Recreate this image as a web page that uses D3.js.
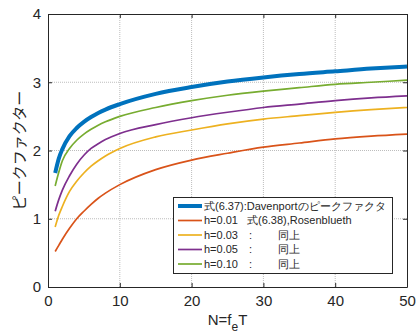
<!DOCTYPE html>
<html>
<head>
<meta charset="utf-8">
<script src="https://cdn.jsdelivr.net/npm/d3@7"></script>
<style>
  body { margin: 0; background: #fff; }
  svg { font-family: "Liberation Sans", Arial, sans-serif; }
</style>
</head>
<body>
<div id="chart"></div>
<script>
const xs = [1, 1.5, 2, 3, 4, 5, 6, 7, 8, 10, 15, 20, 25, 30, 35, 40, 45, 50];

const davenport = [1.67, 1.88, 2.02, 2.21, 2.33, 2.42, 2.49, 2.55, 2.60, 2.68, 2.83, 2.93, 3.01, 3.07, 3.12, 3.16, 3.20, 3.23];
const h001 = [0.52, 0.61, 0.70, 0.86, 1.00, 1.11, 1.21, 1.30, 1.375, 1.50, 1.72, 1.86, 1.96, 2.05, 2.11, 2.17, 2.21, 2.24];
const h003 = [0.88, 1.05, 1.18, 1.40, 1.55, 1.67, 1.77, 1.85, 1.92, 2.03, 2.20, 2.30, 2.39, 2.46, 2.51, 2.56, 2.60, 2.63];
const h005 = [1.11, 1.28, 1.42, 1.63, 1.80, 1.93, 2.03, 2.10, 2.16, 2.25, 2.38, 2.48, 2.56, 2.63, 2.68, 2.73, 2.77, 2.80];
const h010 = [1.48, 1.68, 1.85, 2.03, 2.15, 2.24, 2.31, 2.37, 2.42, 2.50, 2.63, 2.73, 2.81, 2.87, 2.92, 2.97, 3.00, 3.03];

const xTicks = [0, 10, 20, 30, 40, 50];
const yTicks = [0, 1, 2, 3, 4];

const legendLabels = [
  ["式(6.37):Davenportのピークファクタ"],
  ["h=0.01", "式(6.38),Rosenblueth"],
  ["h=0.03", ":", "同上"],
  ["h=0.05", ":", "同上"],
  ["h=0.10", ":", "同上"]
];

const width = 416, height = 334;
const margin = { left: 48, top: 14, right: 9, bottom: 47 };
const w = width - margin.left - margin.right;
const h = height - margin.top - margin.bottom;

const svg = d3.select("#chart")
  .append("svg")
  .attr("width", width)
  .attr("height", height);

const g = svg.append("g")
  .attr("transform", `translate(${margin.left},${margin.top})`);

const x = d3.scaleLinear().domain([0, 50]).range([0, w]);
const y = d3.scaleLinear().domain([0, 4]).range([h, 0]);

// grid
g.append("g")
  .selectAll("line")
  .data(xTicks.slice(1, -1))
  .join("line")
  .attr("x1", d => x(d)).attr("x2", d => x(d))
  .attr("y1", 0).attr("y2", h)
  .style("stroke", "#bdbdbd")
  .style("stroke-dasharray", "1,1");
g.append("g")
  .selectAll("line")
  .data(yTicks.slice(1, -1))
  .join("line")
  .attr("y1", d => y(d)).attr("y2", d => y(d))
  .attr("x1", 0).attr("x2", w)
  .style("stroke", "#bdbdbd")
  .style("stroke-dasharray", "1,1");

// axes with inward ticks on all four sides
const tl = 4;
const axB = g.append("g").attr("transform", `translate(0,${h})`)
  .call(d3.axisBottom(x).tickValues(xTicks).tickSizeInner(-tl).tickSizeOuter(0).tickPadding(8));
const axL = g.append("g")
  .call(d3.axisLeft(y).tickValues(yTicks).tickFormat(d3.format("d")).tickSizeInner(-tl).tickSizeOuter(0).tickPadding(7));
const axT = g.append("g")
  .call(d3.axisTop(x).tickValues(xTicks).tickSizeInner(-tl).tickSizeOuter(0).tickFormat(""));
const axR = g.append("g").attr("transform", `translate(${w},0)`)
  .call(d3.axisRight(y).tickValues(yTicks).tickSizeInner(-tl).tickSizeOuter(0).tickFormat(""));

[axB, axL, axT, axR].forEach(a => {
  a.select(".domain").style("stroke", "#262626");
  a.selectAll(".tick line").style("stroke", "#262626");
  a.selectAll("text").style("font-size", "15px").style("fill", "#262626")
    .style("font-family", "'Liberation Sans', Arial, sans-serif");
});
axB.selectAll("text").attr("dy", "0.75em");

// curves
const series = [
  { vals: davenport, color: "#0072BD", sw: 4 },
  { vals: h001, color: "#D95319", sw: 1.7 },
  { vals: h003, color: "#EDB120", sw: 1.7 },
  { vals: h005, color: "#7E2F8E", sw: 1.7 },
  { vals: h010, color: "#77AC30", sw: 1.7 }
];

const line = d3.line()
  .x(d => x(d[0]))
  .y(d => y(d[1]))
  .curve(d3.curveMonotoneX);

series.slice().reverse().forEach(s => {
  g.append("path")
    .datum(xs.map((v, i) => [v, s.vals[i]]))
    .attr("d", line)
    .style("fill", "none")
    .style("stroke", s.color)
    .style("stroke-width", s.sw);
});

// legend
const lg = svg.append("g");
lg.append("rect")
  .attr("x", 173.5).attr("y", 197.5)
  .attr("width", 219).attr("height", 76)
  .style("fill", "#fff")
  .style("stroke", "#262626")
  .style("stroke-width", 1);

legendLabels.forEach((lab, i) => {
  const yy = 206 + i * 14.5;
  lg.append("line")
    .attr("x1", 178).attr("x2", 202)
    .attr("y1", yy).attr("y2", yy)
    .style("stroke", series[i].color)
    .style("stroke-width", series[i].sw);
  const t = (txt, xx) => lg.append("text")
    .attr("x", xx).attr("y", yy)
    .attr("dy", "0.36em")
    .style("font-size", "11px")
    .style("fill", "#262626")
    .text(txt);
  t(lab[0], 204);
  if (lab.length === 2) t(lab[1], 247);
  if (lab.length === 3) { t(lab[1], 249); t(lab[2], 278); }
});

// axis labels
const xl = svg.append("text")
  .attr("x", margin.left + w / 2)
  .attr("y", 325)
  .attr("text-anchor", "middle")
  .style("font-size", "15px")
  .style("fill", "#262626");
xl.append("tspan").text("N=f");
xl.append("tspan").attr("dy", 6).style("font-size", "12px").text("e");
xl.append("tspan").attr("dy", -6).text("T");

svg.append("text")
  .attr("transform", `translate(25,${margin.top + h / 2}) rotate(-90)`)
  .attr("text-anchor", "middle")
  .style("font-size", "15px")
  .style("fill", "#262626")
  .style("font-family", "'Noto Sans CJK JP', sans-serif")
  .text("ピークファクター");
</script>
</body>
</html>
